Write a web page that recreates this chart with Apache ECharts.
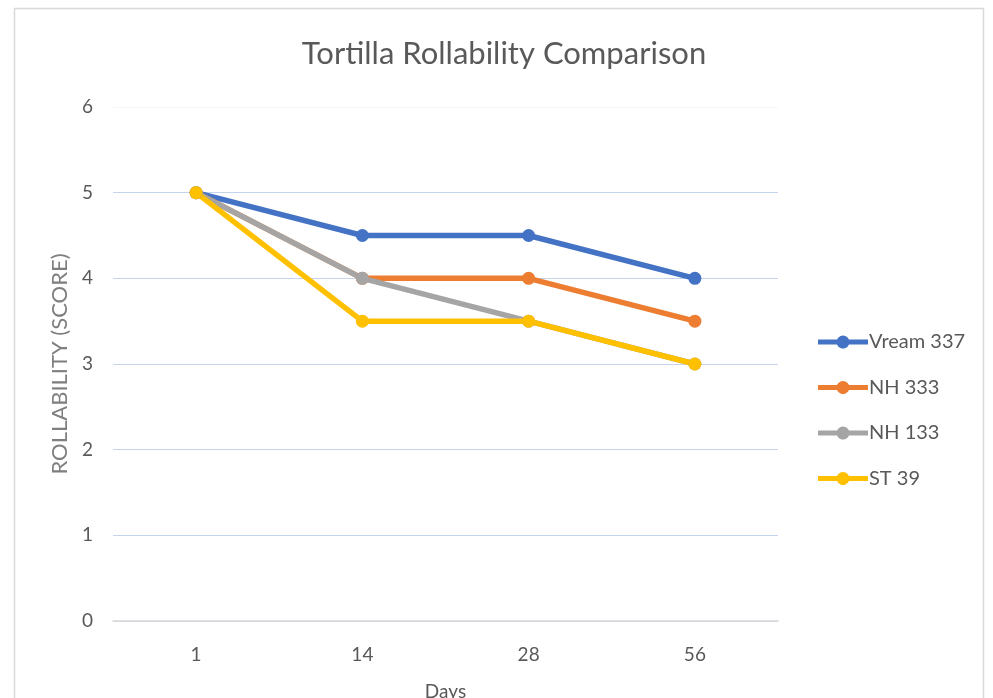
<!DOCTYPE html>
<html>
<head>
<meta charset="utf-8">
<script src="https://cdn.jsdelivr.net/npm/echarts@6/dist/echarts.min.js"></script>
<style>
html,body{margin:0;padding:0;background:#fff;}
#c{width:993px;height:698px;}
</style>
</head>
<body>
<div id="c"></div>
<script>
const categories = ['1', '14', '28', '56'];
const vream337 = [5, 4.5, 4.5, 4];
const nh333 = [5, 4, 4, 3.5];
const nh133 = [5, 4, 3.5, 3];
const st39 = [5, 3.5, 3.5, 3];
const seriesNames = ['Vream 337', 'NH 333', 'NH 133', 'ST 39'];
const colors = ['#4472C4', '#ED7D31', '#A5A5A5', '#FFC000'];
const yTicks = {min: 0, max: 6, interval: 1};

const FONT = 'Lato, "Open Sans", sans-serif';
const chart = echarts.init(document.getElementById('c'));
const mk = (name, data, color) => ({
  name, type: 'line', data,
  symbol: 'circle', symbolSize: 13,
  lineStyle: {width: 5.5, color},
  itemStyle: {color},
  emphasis: {disabled: true},
  animation: false
});
const gridColor = '#c5d4ed';
chart.setOption({
  animation: false,
  color: colors,
  title: {
    text: 'Tortilla Rollability Comparison',
    left: 499, top: 33, textAlign: 'center',
    textStyle: {fontFamily: FONT, fontSize: 31, fontWeight: 'normal', color: '#595959'}
  },
  graphic: [{
    type: 'rect', silent: true,
    shape: {x: 14.5, y: 8.5, width: 969, height: 720},
    style: {fill: 'none', stroke: '#d9d9d9', lineWidth: 1.5}
  }],
  legend: {
    orient: 'vertical', left: 813, top: 327,
    itemWidth: 50, itemHeight: 14, itemGap: 25.5,
    icon: 'path://M0,4.5 L19,4.5 A6.5,6.5 0 0 1 31,4.5 L50,4.5 L50,9.5 L31,9.5 A6.5,6.5 0 0 1 19,9.5 L0,9.5 Z',
    textStyle: {fontFamily: FONT, fontSize: 20, lineHeight: 20, color: '#595959', padding: [0, 0, 0, -4]},
    data: seriesNames.map((n, i) => ({name: n, itemStyle: {color: colors[i]}}))
  },
  grid: {left: 113, right: 215, top: 107, bottom: 77, outerBoundsMode: 'none'},
  xAxis: {
    type: 'category', data: categories, boundaryGap: true,
    name: 'Days', nameLocation: 'middle', nameGap: 61,
    nameTextStyle: {fontFamily: FONT, fontSize: 19, color: '#595959'},
    axisLine: {lineStyle: {color: '#d9d9d9', width: 1.5}},
    axisTick: {show: false},
    axisLabel: {fontFamily: FONT, fontSize: 19, color: '#595959', margin: 24}
  },
  yAxis: {
    type: 'value', min: yTicks.min, max: yTicks.max, interval: yTicks.interval,
    name: 'ROLLABILITY (SCORE)', nameLocation: 'middle', nameGap: 40,
    nameTextStyle: {fontFamily: FONT, fontSize: 22, color: '#7f7f7f'},
    axisLine: {show: false}, axisTick: {show: false},
    axisLabel: {fontFamily: FONT, fontSize: 19, color: '#595959', margin: 20},
    splitLine: {lineStyle: {color: [gridColor, gridColor, gridColor, gridColor, gridColor, gridColor, '#f7f7f7'], width: 1.2}}
  },
  series: [
    mk(seriesNames[0], vream337, colors[0]),
    mk(seriesNames[1], nh333, colors[1]),
    mk(seriesNames[2], nh133, colors[2]),
    mk(seriesNames[3], st39, colors[3])
  ]
});
</script>
</body>
</html>
